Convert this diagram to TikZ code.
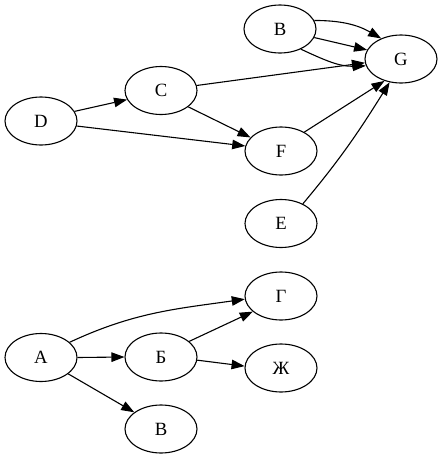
\documentclass[tikz,border=0pt]{standalone}
\usepackage{fontspec}
\setmainfont{Liberation Serif}
\usetikzlibrary{shapes.geometric,arrows.meta}
\begin{document}
\begin{tikzpicture}[x=1pt,y=-1pt,
  vnode/.style={draw,ellipse,line width=1.1pt,minimum width=72pt,minimum height=48pt,inner sep=0pt,font=\fontsize{18.7}{22}\selectfont},
  edge/.style={line width=1.1pt,-{Triangle[length=13pt,width=9.5pt]}}]
\useasboundingbox (0,0) rectangle (443,459);
% top graph
\node[vnode] (B) at (280,29) {B};
\node[vnode] (G) at (401,59) {G};
\node[vnode] (C) at (161,90.5) {C};
\node[vnode] (D) at (41,121) {D};
\node[vnode] (F) at (281,151) {F};
\node[vnode] (E) at (281,223.5) {E};
% bottom graph
\node[vnode] (G2) at (281,296) {Г};
\node[vnode] (A2) at (41,357.5) {А};
\node[vnode] (B2) at (161,357) {Б};
\node[vnode] (Zh) at (281,368) {Ж};
\node[vnode] (V2) at (161,429) {В};
% edges top
\draw[edge] (B.14) to[out=0,in=150] (G.134);
\draw[edge] (B.346) -- (G.165);
\draw[edge] (B.316) to[out=-25,in=182] (G.191);
\draw[edge] (C.8) -- (G.186);
\draw[edge] (F.39) -- (G.233);
\draw[edge] (E.42) to[out=50,in=238] (G.244);
\draw[edge] (D.16) -- (C.195);
\draw[edge] (D.352) -- (F.172);
\draw[edge] (C.329) -- (F.156);
% edges bottom
\draw[edge] (A2.28) to[out=25,in=188] (G2.185);
\draw[edge] (A2.0) -- (B2.180);
\draw[edge] (A2.329) -- (V2.148);
\draw[edge] (B2.29) -- (G2.209);
\draw[edge] (B2.355) -- (Zh.177);
\end{tikzpicture}
\end{document}
